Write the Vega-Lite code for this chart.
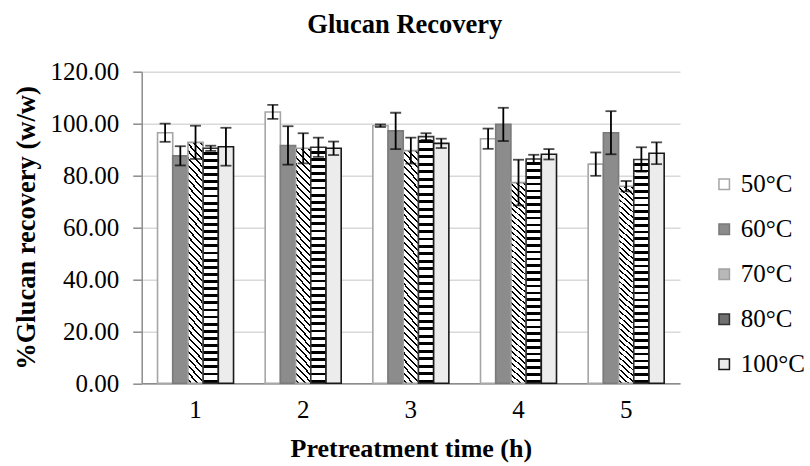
{
  "$schema": "https://vega.github.io/schema/vega-lite/v6.json",
  "autosize": "none",
  "width": 538.3,
  "height": 311.6,
  "padding": {"left": 141.7, "top": 71.7, "right": 130, "bottom": 82.7},
  "background": "white",
  "title": {
    "text": "Glucan Recovery",
    "font": "Liberation Serif",
    "fontSize": 26.5,
    "fontWeight": "bold",
    "color": "black",
    "anchor": "middle",
    "frame": "group",
    "dx": -6,
    "offset": 21
  },
  "config": {
    "view": {"stroke": null},
    "font": "Liberation Serif"
  },
  "data": {
    "values": [
      {"time": "1", "temp": "50°C", "value": 96.5, "lo": 93.0, "hi": 100.0},
      {"time": "1", "temp": "60°C", "value": 87.6, "lo": 83.9, "hi": 91.3},
      {"time": "1", "temp": "70°C", "value": 92.8, "lo": 86.4, "hi": 99.2},
      {"time": "1", "temp": "80°C", "value": 90.5, "lo": 89.5, "hi": 91.5},
      {"time": "1", "temp": "100°C", "value": 91.1, "lo": 83.8, "hi": 98.4},
      {"time": "2", "temp": "50°C", "value": 104.5, "lo": 101.8, "hi": 107.2},
      {"time": "2", "temp": "60°C", "value": 91.6, "lo": 84.2, "hi": 99.0},
      {"time": "2", "temp": "70°C", "value": 90.5, "lo": 84.7, "hi": 96.3},
      {"time": "2", "temp": "80°C", "value": 90.9, "lo": 87.2, "hi": 94.6},
      {"time": "2", "temp": "100°C", "value": 90.5, "lo": 87.9, "hi": 93.1},
      {"time": "3", "temp": "50°C", "value": 99.2, "lo": 98.7, "hi": 99.7},
      {"time": "3", "temp": "60°C", "value": 97.2, "lo": 90.2, "hi": 104.2},
      {"time": "3", "temp": "70°C", "value": 89.6, "lo": 84.6, "hi": 94.6},
      {"time": "3", "temp": "80°C", "value": 95.0, "lo": 93.7, "hi": 96.3},
      {"time": "3", "temp": "100°C", "value": 92.4, "lo": 90.6, "hi": 94.2},
      {"time": "4", "temp": "50°C", "value": 94.2, "lo": 90.3, "hi": 98.1},
      {"time": "4", "temp": "60°C", "value": 99.7, "lo": 93.3, "hi": 106.1},
      {"time": "4", "temp": "70°C", "value": 77.3, "lo": 68.5, "hi": 86.1},
      {"time": "4", "temp": "80°C", "value": 86.4, "lo": 84.8, "hi": 88.0},
      {"time": "4", "temp": "100°C", "value": 88.2, "lo": 86.2, "hi": 90.2},
      {"time": "5", "temp": "50°C", "value": 84.4, "lo": 79.9, "hi": 88.9},
      {"time": "5", "temp": "60°C", "value": 96.5, "lo": 88.2, "hi": 104.8},
      {"time": "5", "temp": "70°C", "value": 75.9, "lo": 73.9, "hi": 77.9},
      {"time": "5", "temp": "80°C", "value": 86.2, "lo": 81.5, "hi": 90.9},
      {"time": "5", "temp": "100°C", "value": 88.6, "lo": 84.4, "hi": 92.8}
    ]
  },
  "encoding": {
    "x": {
      "field": "time",
      "type": "nominal",
      "sort": null,
      "scale": {"paddingInner": 0.294, "paddingOuter": 0.147},
      "axis": {
        "title": "Pretreatment time (h)",
        "titleFont": "Liberation Serif",
        "titleFontSize": 26,
        "titleFontWeight": "bold",
        "titleColor": "black",
        "titlePadding": 13,
        "labelFont": "Liberation Serif",
        "labelFontSize": 25,
        "labelColor": "black",
        "labelAngle": 0,
        "labelPadding": 14,
        "ticks": false,
        "domainColor": "#8c8c8c",
        "domainWidth": 1.5,
        "grid": false
      }
    },
    "xOffset": {
      "field": "temp",
      "type": "nominal",
      "sort": ["50°C", "60°C", "70°C", "80°C", "100°C"],
      "scale": {"paddingInner": 0, "paddingOuter": 0}
    }
  },
  "layer": [
    {
      "mark": {"type": "bar", "strokeWidth": 1.6},
      "encoding": {
        "y": {
          "field": "value",
          "type": "quantitative",
          "scale": {"domain": [0, 120], "nice": false},
          "axis": {
            "title": "%Glucan recovery (w/w)",
            "titleFont": "Liberation Serif",
            "titleFontSize": 26.5,
            "titleFontWeight": "bold",
            "titleColor": "black",
            "titlePadding": 9,
            "values": [0, 10, 20, 30, 40, 50, 60, 70, 80, 90, 100, 110, 120],
            "labelExpr": "datum.value % 20 === 0 ? format(datum.value, '.2f') : ''",
            "labelFont": "Liberation Serif",
            "labelFontSize": 25,
            "labelColor": "black",
            "labelPadding": 14,
            "tickColor": "#8c8c8c",
            "tickWidth": 1.5,
            "tickSize": {"condition": {"test": "datum.value % 20 === 0", "value": 9}, "value": 6},
            "domainColor": "#8c8c8c",
            "domainWidth": 1.5,
            "grid": true,
            "gridColor": "#d9d9d9",
            "gridWidth": 1.5,
            "gridOpacity": {"condition": {"test": "datum.value % 20 === 0", "value": 1}, "value": 0}
          }
        },
        "fill": {
          "condition": [
            {
              "test": "datum.temp === '80°C'",
              "value": {
                "gradient": "linear", "x1": 0, "y1": 0, "x2": 0, "y2": 1,
                "stops": [
                  {"offset": 0, "color": "#ffffff"},
                  {"offset": 0.0152, "color": "#ffffff"}, {"offset": 0.0152, "color": "#000000"}, {"offset": 0.0272, "color": "#000000"}, {"offset": 0.0272, "color": "#ffffff"},
                  {"offset": 0.0455, "color": "#ffffff"}, {"offset": 0.0455, "color": "#000000"}, {"offset": 0.0575, "color": "#000000"}, {"offset": 0.0575, "color": "#ffffff"},
                  {"offset": 0.0758, "color": "#ffffff"}, {"offset": 0.0758, "color": "#000000"}, {"offset": 0.0878, "color": "#000000"}, {"offset": 0.0878, "color": "#ffffff"},
                  {"offset": 0.1061, "color": "#ffffff"}, {"offset": 0.1061, "color": "#000000"}, {"offset": 0.1181, "color": "#000000"}, {"offset": 0.1181, "color": "#ffffff"},
                  {"offset": 0.1364, "color": "#ffffff"}, {"offset": 0.1364, "color": "#000000"}, {"offset": 0.1484, "color": "#000000"}, {"offset": 0.1484, "color": "#ffffff"},
                  {"offset": 0.1667, "color": "#ffffff"}, {"offset": 0.1667, "color": "#000000"}, {"offset": 0.1787, "color": "#000000"}, {"offset": 0.1787, "color": "#ffffff"},
                  {"offset": 0.1970, "color": "#ffffff"}, {"offset": 0.1970, "color": "#000000"}, {"offset": 0.2090, "color": "#000000"}, {"offset": 0.2090, "color": "#ffffff"},
                  {"offset": 0.2273, "color": "#ffffff"}, {"offset": 0.2273, "color": "#000000"}, {"offset": 0.2393, "color": "#000000"}, {"offset": 0.2393, "color": "#ffffff"},
                  {"offset": 0.2576, "color": "#ffffff"}, {"offset": 0.2576, "color": "#000000"}, {"offset": 0.2696, "color": "#000000"}, {"offset": 0.2696, "color": "#ffffff"},
                  {"offset": 0.2879, "color": "#ffffff"}, {"offset": 0.2879, "color": "#000000"}, {"offset": 0.2999, "color": "#000000"}, {"offset": 0.2999, "color": "#ffffff"},
                  {"offset": 0.3182, "color": "#ffffff"}, {"offset": 0.3182, "color": "#000000"}, {"offset": 0.3302, "color": "#000000"}, {"offset": 0.3302, "color": "#ffffff"},
                  {"offset": 0.3485, "color": "#ffffff"}, {"offset": 0.3485, "color": "#000000"}, {"offset": 0.3605, "color": "#000000"}, {"offset": 0.3605, "color": "#ffffff"},
                  {"offset": 0.3788, "color": "#ffffff"}, {"offset": 0.3788, "color": "#000000"}, {"offset": 0.3908, "color": "#000000"}, {"offset": 0.3908, "color": "#ffffff"},
                  {"offset": 0.4091, "color": "#ffffff"}, {"offset": 0.4091, "color": "#000000"}, {"offset": 0.4211, "color": "#000000"}, {"offset": 0.4211, "color": "#ffffff"},
                  {"offset": 0.4394, "color": "#ffffff"}, {"offset": 0.4394, "color": "#000000"}, {"offset": 0.4514, "color": "#000000"}, {"offset": 0.4514, "color": "#ffffff"},
                  {"offset": 0.4697, "color": "#ffffff"}, {"offset": 0.4697, "color": "#000000"}, {"offset": 0.4817, "color": "#000000"}, {"offset": 0.4817, "color": "#ffffff"},
                  {"offset": 0.5000, "color": "#ffffff"}, {"offset": 0.5000, "color": "#000000"}, {"offset": 0.5120, "color": "#000000"}, {"offset": 0.5120, "color": "#ffffff"},
                  {"offset": 0.5303, "color": "#ffffff"}, {"offset": 0.5303, "color": "#000000"}, {"offset": 0.5423, "color": "#000000"}, {"offset": 0.5423, "color": "#ffffff"},
                  {"offset": 0.5606, "color": "#ffffff"}, {"offset": 0.5606, "color": "#000000"}, {"offset": 0.5726, "color": "#000000"}, {"offset": 0.5726, "color": "#ffffff"},
                  {"offset": 0.5909, "color": "#ffffff"}, {"offset": 0.5909, "color": "#000000"}, {"offset": 0.6029, "color": "#000000"}, {"offset": 0.6029, "color": "#ffffff"},
                  {"offset": 0.6212, "color": "#ffffff"}, {"offset": 0.6212, "color": "#000000"}, {"offset": 0.6332, "color": "#000000"}, {"offset": 0.6332, "color": "#ffffff"},
                  {"offset": 0.6515, "color": "#ffffff"}, {"offset": 0.6515, "color": "#000000"}, {"offset": 0.6635, "color": "#000000"}, {"offset": 0.6635, "color": "#ffffff"},
                  {"offset": 0.6818, "color": "#ffffff"}, {"offset": 0.6818, "color": "#000000"}, {"offset": 0.6938, "color": "#000000"}, {"offset": 0.6938, "color": "#ffffff"},
                  {"offset": 0.7121, "color": "#ffffff"}, {"offset": 0.7121, "color": "#000000"}, {"offset": 0.7241, "color": "#000000"}, {"offset": 0.7241, "color": "#ffffff"},
                  {"offset": 0.7424, "color": "#ffffff"}, {"offset": 0.7424, "color": "#000000"}, {"offset": 0.7544, "color": "#000000"}, {"offset": 0.7544, "color": "#ffffff"},
                  {"offset": 0.7727, "color": "#ffffff"}, {"offset": 0.7727, "color": "#000000"}, {"offset": 0.7847, "color": "#000000"}, {"offset": 0.7847, "color": "#ffffff"},
                  {"offset": 0.8030, "color": "#ffffff"}, {"offset": 0.8030, "color": "#000000"}, {"offset": 0.8150, "color": "#000000"}, {"offset": 0.8150, "color": "#ffffff"},
                  {"offset": 0.8333, "color": "#ffffff"}, {"offset": 0.8333, "color": "#000000"}, {"offset": 0.8453, "color": "#000000"}, {"offset": 0.8453, "color": "#ffffff"},
                  {"offset": 0.8636, "color": "#ffffff"}, {"offset": 0.8636, "color": "#000000"}, {"offset": 0.8756, "color": "#000000"}, {"offset": 0.8756, "color": "#ffffff"},
                  {"offset": 0.8939, "color": "#ffffff"}, {"offset": 0.8939, "color": "#000000"}, {"offset": 0.9059, "color": "#000000"}, {"offset": 0.9059, "color": "#ffffff"},
                  {"offset": 0.9242, "color": "#ffffff"}, {"offset": 0.9242, "color": "#000000"}, {"offset": 0.9362, "color": "#000000"}, {"offset": 0.9362, "color": "#ffffff"},
                  {"offset": 0.9545, "color": "#ffffff"}, {"offset": 0.9545, "color": "#000000"}, {"offset": 0.9665, "color": "#000000"}, {"offset": 0.9665, "color": "#ffffff"},
                  {"offset": 0.9848, "color": "#ffffff"}, {"offset": 0.9848, "color": "#000000"}, {"offset": 0.9968, "color": "#000000"}, {"offset": 0.9968, "color": "#ffffff"},
                  {"offset": 1, "color": "#ffffff"}
                ]
              }
            },
            {
              "test": "datum.temp === '70°C'",
              "value": {
                "gradient": "linear", "x1": 1, "y1": 0, "x2": 0.9268, "y2": 1.0637,
                "stops": [
                  {"offset": 0, "color": "#ffffff"},
                  {"offset": 0.00972, "color": "#ffffff"}, {"offset": 0.00972, "color": "#000000"}, {"offset": 0.01806, "color": "#000000"}, {"offset": 0.01806, "color": "#ffffff"},
                  {"offset": 0.03750, "color": "#ffffff"}, {"offset": 0.03750, "color": "#000000"}, {"offset": 0.04583, "color": "#000000"}, {"offset": 0.04583, "color": "#ffffff"},
                  {"offset": 0.06528, "color": "#ffffff"}, {"offset": 0.06528, "color": "#000000"}, {"offset": 0.07361, "color": "#000000"}, {"offset": 0.07361, "color": "#ffffff"},
                  {"offset": 0.09306, "color": "#ffffff"}, {"offset": 0.09306, "color": "#000000"}, {"offset": 0.10139, "color": "#000000"}, {"offset": 0.10139, "color": "#ffffff"},
                  {"offset": 0.12083, "color": "#ffffff"}, {"offset": 0.12083, "color": "#000000"}, {"offset": 0.12917, "color": "#000000"}, {"offset": 0.12917, "color": "#ffffff"},
                  {"offset": 0.14861, "color": "#ffffff"}, {"offset": 0.14861, "color": "#000000"}, {"offset": 0.15694, "color": "#000000"}, {"offset": 0.15694, "color": "#ffffff"},
                  {"offset": 0.17639, "color": "#ffffff"}, {"offset": 0.17639, "color": "#000000"}, {"offset": 0.18472, "color": "#000000"}, {"offset": 0.18472, "color": "#ffffff"},
                  {"offset": 0.20417, "color": "#ffffff"}, {"offset": 0.20417, "color": "#000000"}, {"offset": 0.21250, "color": "#000000"}, {"offset": 0.21250, "color": "#ffffff"},
                  {"offset": 0.23194, "color": "#ffffff"}, {"offset": 0.23194, "color": "#000000"}, {"offset": 0.24028, "color": "#000000"}, {"offset": 0.24028, "color": "#ffffff"},
                  {"offset": 0.25972, "color": "#ffffff"}, {"offset": 0.25972, "color": "#000000"}, {"offset": 0.26806, "color": "#000000"}, {"offset": 0.26806, "color": "#ffffff"},
                  {"offset": 0.28750, "color": "#ffffff"}, {"offset": 0.28750, "color": "#000000"}, {"offset": 0.29583, "color": "#000000"}, {"offset": 0.29583, "color": "#ffffff"},
                  {"offset": 0.31528, "color": "#ffffff"}, {"offset": 0.31528, "color": "#000000"}, {"offset": 0.32361, "color": "#000000"}, {"offset": 0.32361, "color": "#ffffff"},
                  {"offset": 0.34306, "color": "#ffffff"}, {"offset": 0.34306, "color": "#000000"}, {"offset": 0.35139, "color": "#000000"}, {"offset": 0.35139, "color": "#ffffff"},
                  {"offset": 0.37083, "color": "#ffffff"}, {"offset": 0.37083, "color": "#000000"}, {"offset": 0.37917, "color": "#000000"}, {"offset": 0.37917, "color": "#ffffff"},
                  {"offset": 0.39861, "color": "#ffffff"}, {"offset": 0.39861, "color": "#000000"}, {"offset": 0.40694, "color": "#000000"}, {"offset": 0.40694, "color": "#ffffff"},
                  {"offset": 0.42639, "color": "#ffffff"}, {"offset": 0.42639, "color": "#000000"}, {"offset": 0.43472, "color": "#000000"}, {"offset": 0.43472, "color": "#ffffff"},
                  {"offset": 0.45417, "color": "#ffffff"}, {"offset": 0.45417, "color": "#000000"}, {"offset": 0.46250, "color": "#000000"}, {"offset": 0.46250, "color": "#ffffff"},
                  {"offset": 0.48194, "color": "#ffffff"}, {"offset": 0.48194, "color": "#000000"}, {"offset": 0.49028, "color": "#000000"}, {"offset": 0.49028, "color": "#ffffff"},
                  {"offset": 0.50972, "color": "#ffffff"}, {"offset": 0.50972, "color": "#000000"}, {"offset": 0.51806, "color": "#000000"}, {"offset": 0.51806, "color": "#ffffff"},
                  {"offset": 0.53750, "color": "#ffffff"}, {"offset": 0.53750, "color": "#000000"}, {"offset": 0.54583, "color": "#000000"}, {"offset": 0.54583, "color": "#ffffff"},
                  {"offset": 0.56528, "color": "#ffffff"}, {"offset": 0.56528, "color": "#000000"}, {"offset": 0.57361, "color": "#000000"}, {"offset": 0.57361, "color": "#ffffff"},
                  {"offset": 0.59306, "color": "#ffffff"}, {"offset": 0.59306, "color": "#000000"}, {"offset": 0.60139, "color": "#000000"}, {"offset": 0.60139, "color": "#ffffff"},
                  {"offset": 0.62083, "color": "#ffffff"}, {"offset": 0.62083, "color": "#000000"}, {"offset": 0.62917, "color": "#000000"}, {"offset": 0.62917, "color": "#ffffff"},
                  {"offset": 0.64861, "color": "#ffffff"}, {"offset": 0.64861, "color": "#000000"}, {"offset": 0.65694, "color": "#000000"}, {"offset": 0.65694, "color": "#ffffff"},
                  {"offset": 0.67639, "color": "#ffffff"}, {"offset": 0.67639, "color": "#000000"}, {"offset": 0.68472, "color": "#000000"}, {"offset": 0.68472, "color": "#ffffff"},
                  {"offset": 0.70417, "color": "#ffffff"}, {"offset": 0.70417, "color": "#000000"}, {"offset": 0.71250, "color": "#000000"}, {"offset": 0.71250, "color": "#ffffff"},
                  {"offset": 0.73194, "color": "#ffffff"}, {"offset": 0.73194, "color": "#000000"}, {"offset": 0.74028, "color": "#000000"}, {"offset": 0.74028, "color": "#ffffff"},
                  {"offset": 0.75972, "color": "#ffffff"}, {"offset": 0.75972, "color": "#000000"}, {"offset": 0.76806, "color": "#000000"}, {"offset": 0.76806, "color": "#ffffff"},
                  {"offset": 0.78750, "color": "#ffffff"}, {"offset": 0.78750, "color": "#000000"}, {"offset": 0.79583, "color": "#000000"}, {"offset": 0.79583, "color": "#ffffff"},
                  {"offset": 0.81528, "color": "#ffffff"}, {"offset": 0.81528, "color": "#000000"}, {"offset": 0.82361, "color": "#000000"}, {"offset": 0.82361, "color": "#ffffff"},
                  {"offset": 0.84306, "color": "#ffffff"}, {"offset": 0.84306, "color": "#000000"}, {"offset": 0.85139, "color": "#000000"}, {"offset": 0.85139, "color": "#ffffff"},
                  {"offset": 0.87083, "color": "#ffffff"}, {"offset": 0.87083, "color": "#000000"}, {"offset": 0.87917, "color": "#000000"}, {"offset": 0.87917, "color": "#ffffff"},
                  {"offset": 0.89861, "color": "#ffffff"}, {"offset": 0.89861, "color": "#000000"}, {"offset": 0.90694, "color": "#000000"}, {"offset": 0.90694, "color": "#ffffff"},
                  {"offset": 0.92639, "color": "#ffffff"}, {"offset": 0.92639, "color": "#000000"}, {"offset": 0.93472, "color": "#000000"}, {"offset": 0.93472, "color": "#ffffff"},
                  {"offset": 0.95417, "color": "#ffffff"}, {"offset": 0.95417, "color": "#000000"}, {"offset": 0.96250, "color": "#000000"}, {"offset": 0.96250, "color": "#ffffff"},
                  {"offset": 0.98194, "color": "#ffffff"}, {"offset": 0.98194, "color": "#000000"}, {"offset": 0.99028, "color": "#000000"}, {"offset": 0.99028, "color": "#ffffff"},
                  {"offset": 1, "color": "#ffffff"}
                ]
              }
            }
          ],
          "field": "temp",
          "type": "nominal",
          "sort": ["50°C", "60°C", "70°C", "80°C", "100°C"],
          "scale": {"range": ["#ffffff", "#8c8c8c", "#b8b8b8", "#707070", "#ececec"]},
          "legend": {
            "title": null,
            "orient": "none",
            "legendX": 570,
            "legendY": 100,
            "symbolType": "square",
            "symbolSize": 110,
            "symbolStrokeWidth": 1.5,
            "labelFont": "Liberation Serif",
            "labelFontSize": 25,
            "labelColor": "black",
            "labelOffset": 4,
            "rowPadding": 19,
            "encode": {
              "symbols": {
                "update": {
                  "fill": {"scale": "fill", "field": "value"},
                  "stroke": {"scale": "stroke", "field": "value"},
                  "strokeWidth": {"value": 1.5},
                  "opacity": {"value": 1}
                }
              }
            }
          }
        },
        "stroke": {
          "field": "temp",
          "type": "nominal",
          "sort": ["50°C", "60°C", "70°C", "80°C", "100°C"],
          "scale": {"range": ["#a6a6a6", "#7a7a7a", "#a0a0a0", "#333333", "#1a1a1a"]},
          "legend": null
        }
      }
    },
    {
      "mark": {"type": "rule", "color": "black", "strokeWidth": 1.8},
      "encoding": {
        "y": {"field": "lo", "type": "quantitative"},
        "y2": {"field": "hi"}
      }
    },
    {
      "mark": {"type": "tick", "color": "black", "size": 11, "thickness": 1.8, "orient": "horizontal"},
      "encoding": {
        "y": {"field": "lo", "type": "quantitative"}
      }
    },
    {
      "mark": {"type": "tick", "color": "black", "size": 11, "thickness": 1.8, "orient": "horizontal"},
      "encoding": {
        "y": {"field": "hi", "type": "quantitative"}
      }
    }
  ]
}
